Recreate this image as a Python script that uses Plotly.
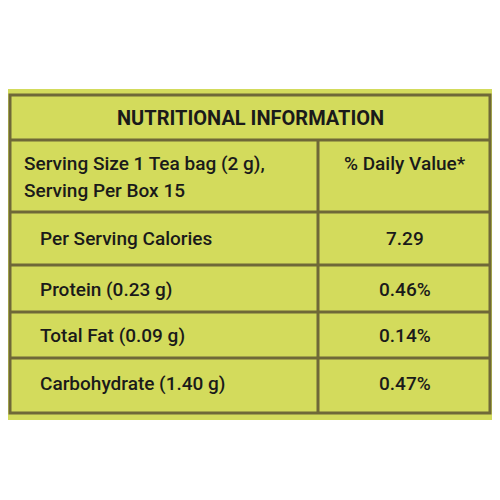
import plotly.graph_objects as go

title = "NUTRITIONAL INFORMATION"
header_left = ["Serving Size 1 Tea bag (2 g),", "Serving Per Box 15"]
header_right = "% Daily Value*"
nutrients = ["Per Serving Calories", "Protein (0.23 g)", "Total Fat (0.09 g)", "Carbohydrate (1.40 g)"]
values = ["7.29", "0.46%", "0.14%", "0.47%"]

fill = "#d3db5c"
line = "#6f6838"
font = dict(family="Roboto", size=19, color="#1a1a1a", weight=500)

row_lines = [140, 212, 265, 312, 358]
row_mid = [238, 289, 335, 383]

fig = go.Figure()
shapes = [
    dict(type="rect", x0=5, x1=495, y0=89, y1=420, fillcolor=fill, line=dict(width=0), layer="below"),
    dict(type="rect", x0=10, x1=490, y0=95, y1=413, line=dict(color=line, width=3)),
    dict(type="line", x0=318, x1=318, y0=140, y1=413, line=dict(color=line, width=3)),
]
for y in row_lines:
    shapes.append(dict(type="line", x0=10, x1=490, y0=y, y1=y, line=dict(color=line, width=3)))

ann = [dict(x=250, y=118, text="<b>" + title + "</b>", showarrow=False,
            font=dict(family="Roboto", size=20, color="#1a1a1a"))]
for i, t in enumerate(header_left):
    ann.append(dict(x=22, y=163 + 27 * i, text=t, showarrow=False, xanchor="left", font=font))
ann.append(dict(x=405, y=163, text=header_right, showarrow=False, font=font))
for y, n, v in zip(row_mid, nutrients, values):
    ann.append(dict(x=38, y=y, text=n, showarrow=False, xanchor="left", font=font))
    ann.append(dict(x=405, y=y, text=v, showarrow=False, font=font))

# page body adds an 8px offset, so shift the ranges to compensate
fig.update_layout(
    width=500, height=500, margin=dict(l=0, r=0, t=0, b=0),
    paper_bgcolor="white", plot_bgcolor="white",
    xaxis=dict(range=[8, 508], visible=False),
    yaxis=dict(range=[508, 8], visible=False),
    shapes=shapes, annotations=ann, showlegend=False,
)
fig.write_html("out.html")
